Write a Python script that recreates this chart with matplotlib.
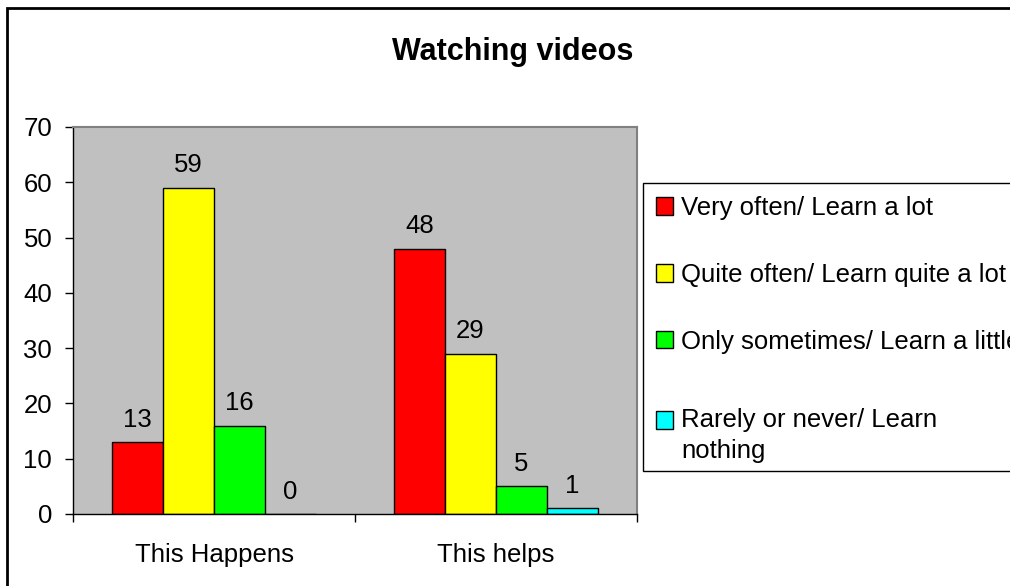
import numpy as np
import matplotlib.pyplot as plt
from matplotlib.patches import Rectangle
from matplotlib.transforms import ScaledTranslation
from matplotlib.legend_handler import HandlerPatch, update_from_first_child

plt.rcParams['font.family'] = ['Liberation Sans', 'DejaVu Sans']

# Chart data.
categories = ['This Happens', 'This helps']
series_names = ['Very often/ Learn a lot',
                'Quite often/ Learn quite a lot',
                'Only sometimes/ Learn a little',
                'Rarely or never/ Learn\nnothing']
series_values = [[13, 48],
                 [59, 29],
                 [16, 5],
                 [0, 1]]
series_colors = ['#FF0000', '#FFFF00', '#00FF00', '#00FFFF']
y_ticks = [0, 10, 20, 30, 40, 50, 60, 70]

fs = 18.5

fig = plt.figure(figsize=(10.1, 5.86), dpi=100)
ax = fig.add_axes([0.0723, 0.1229, 0.5584, 0.6604])
ax.set_facecolor('#C0C0C0')

x = np.arange(len(categories))
width = 0.181
offsets = (np.arange(len(series_names)) - 1.5) * width

containers = []
for vals, name, col, off in zip(series_values, series_names, series_colors, offsets):
    bars = ax.bar(x + off, vals, width, color=col, edgecolor='black',
                  linewidth=1, label=name)
    containers.append(bars)
    for b, v in zip(bars, vals):
        ax.annotate(str(v), (b.get_x() + b.get_width() / 2, v),
                    xytext=(0, 7.5), textcoords='offset points',
                    ha='center', va='bottom', fontsize=fs)

ax.set_xlim(-0.5, 1.5)
ax.set_ylim(0, 70)
ax.set_yticks(y_ticks)
ax.tick_params(axis='y', labelsize=fs, length=6, width=1, pad=9, direction='out')

# Ticks sit at the category boundaries, labels at the centres.
ax.set_xticks([-0.5, 0.5, 1.5])
ax.set_xticklabels([])
ax.set_xticks(x, minor=True)
ax.set_xticklabels(categories, minor=True, fontsize=fs)
ax.tick_params(axis='x', which='major', length=6, width=1, direction='out')
ax.tick_params(axis='x', which='minor', length=0, pad=21)

for side in ['top', 'right']:
    ax.spines[side].set_color('#808080')
    ax.spines[side].set_linewidth(1.5)
for side in ['left', 'bottom']:
    ax.spines[side].set_color('black')
    ax.spines[side].set_linewidth(1)

fig.text(0.508, 0.912, 'Watching videos', ha='center', va='center',
         fontsize=22, fontweight='bold')

# The last legend entry sits a bit lower than the even spacing gives.
shift_px = 11


# The two-line legend entry keeps its swatch next to the first line.
def first_line_patch(legend, orig_handle, xdescent, ydescent, width, height, fontsize):
    return Rectangle((-xdescent, -ydescent + 11.5 - shift_px * 0.72), width, height)


leg = ax.legend(loc='upper left', bbox_to_anchor=(0.6366, 0.6877),
                bbox_transform=fig.transFigure, borderaxespad=0,
                frameon=False, fontsize=fs,
                handlelength=0.68, handleheight=0.68, handletextpad=0.3,
                labelspacing=1.67, borderpad=0.5,
                handler_map={containers[3]: HandlerPatch(patch_func=first_line_patch,
                                                         update_func=update_from_first_child)})
last = leg.get_texts()[3]
last.set_linespacing(1.4)
last.set_transform(last.get_transform() + ScaledTranslation(0, -shift_px / 100, fig.dpi_scale_trans))

# Legend frame, cut off at the right edge like in the reference.
fig.patches.append(Rectangle((643 / 1010, 1 - 471 / 586), 0.5, 288 / 586,
                             transform=fig.transFigure, facecolor='white',
                             edgecolor='black', linewidth=1, zorder=-1))

# Outer chart border (cut off at right and bottom in the reference).
fig.patches.append(Rectangle((7 / 1010, -0.1), 1.2, 1 - 7.5 / 586 + 0.1,
                             transform=fig.transFigure, fill=False,
                             edgecolor='black', linewidth=2))

plt.savefig('out.png', dpi=100)
plt.close()
